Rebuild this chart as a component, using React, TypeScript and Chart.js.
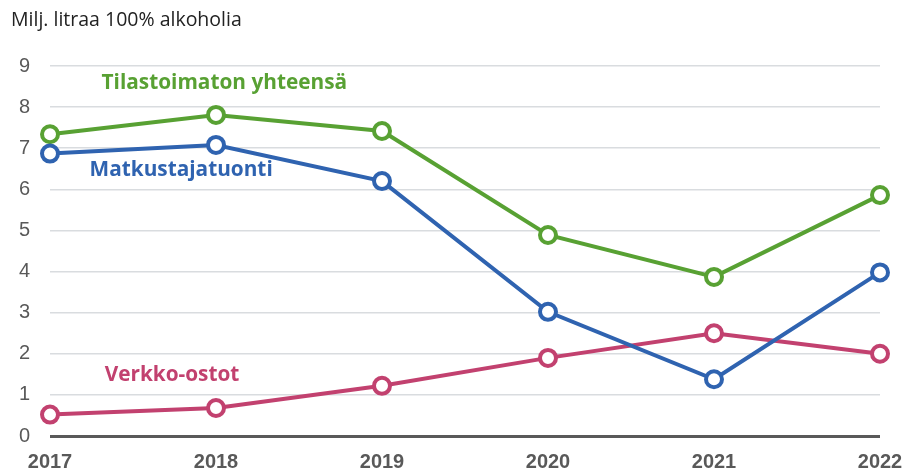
import React, { useEffect, useRef } from "react";
import { Chart, registerables } from "chart.js";

Chart.register(...registerables);

const years = ["2017", "2018", "2019", "2020", "2021", "2022"];
const tilastoimaton = [7.34, 7.81, 7.42, 4.89, 3.87, 5.86];
const matkustajatuonti = [6.87, 7.08, 6.2, 3.02, 1.38, 3.98];
const verkkoostot = [0.52, 0.68, 1.22, 1.9, 2.5, 2.0];

const yTicks = [0, 1, 2, 3, 4, 5, 6, 7, 8, 9];
const axisTitle = "Milj. litraa 100% alkoholia";

const GREEN = "#58a133";
const BLUE = "#2f63b0";
const PINK = "#c2416f";

// series labels: text, colour, anchor in data units (category index, value)
const seriesLabels = [
  { text: "Tilastoimaton yhteensä", color: GREEN, xIndex: 1.05, y: 8.58 },
  { text: "Matkustajatuonti", color: BLUE, xIndex: 0.79, y: 6.47 },
  { text: "Verkko-ostot", color: PINK, xIndex: 0.735, y: 1.48 },
];

const labelsPlugin = {
  id: "seriesLabels",
  afterDatasetsDraw(chart: any) {
    const { ctx, scales } = chart;
    const xs = scales.x;
    const ys = scales.y;
    ctx.save();
    ctx.font = "bold 20.8px 'Open Sans', Lato, sans-serif";
    ctx.textAlign = "center";
    ctx.textBaseline = "middle";
    for (const l of seriesLabels) {
      const x0 = xs.getPixelForValue(Math.floor(l.xIndex));
      const x1 = xs.getPixelForValue(Math.floor(l.xIndex) + 1);
      const px = x0 + (x1 - x0) * (l.xIndex - Math.floor(l.xIndex));
      ctx.fillStyle = l.color;
      ctx.fillText(l.text, px, ys.getPixelForValue(l.y));
    }
    ctx.fillStyle = "#222222";
    ctx.font = "19.5px 'Open Sans', Lato, sans-serif";
    ctx.textAlign = "left";
    ctx.fillText(axisTitle, 11, 20);
    ctx.restore();
  },
};

function ds(label: string, data: number[], color: string) {
  return {
    label,
    data,
    borderColor: color,
    backgroundColor: "#ffffff",
    pointBackgroundColor: "#ffffff",
    pointBorderColor: color,
    pointRadius: 8,
    pointBorderWidth: 4,
    borderWidth: 4,
    tension: 0,
    clip: false as any,
  };
}

export default function App() {
  const ref = useRef<HTMLCanvasElement>(null);
  useEffect(() => {
    if (!ref.current) return;
    const chart = new Chart(ref.current, {
      type: "line",
      data: {
        labels: years,
        datasets: [
          ds("Matkustajatuonti", matkustajatuonti, BLUE),
          ds("Verkko-ostot", verkkoostot, PINK),
          ds("Tilastoimaton yhteensä", tilastoimaton, GREEN),
        ],
      },
      options: {
        responsive: false,
        animation: false,
        devicePixelRatio: 1,
        layout: { padding: { top: 66, right: 42, left: 0, bottom: 0 } },
        plugins: {
          legend: { display: false },
          tooltip: { enabled: false },
          title: { display: false },
        },
        scales: {
          x: {
            offset: false,
            grid: { display: false },
            border: { display: false },
            ticks: {
              color: "#595959",
              font: { family: "'Liberation Sans', Arial, sans-serif", size: 20, weight: "bold" },
              padding: 6,
              maxRotation: 0,
              autoSkip: false,
            },
            afterFit: (s: any) => {
              s.height = 38;
            },
          },
          y: {
            min: 0,
            max: 9,
            afterBuildTicks: (s: any) => {
              s.ticks = yTicks.map((v) => ({ value: v }));
            },
            grid: {
              drawTicks: false,
              color: (c: any) => (c.tick && c.tick.value === 0 ? "#595959" : "#d9dcdf"),
              lineWidth: (c: any) => (c.tick && c.tick.value === 0 ? 3 : 1.5),
            },
            border: { display: false },
            ticks: {
              color: "#595959",
              font: { family: "'Liberation Sans', Arial, sans-serif", size: 20 },
              padding: 20,
            },
            afterFit: (s: any) => {
              s.width = 50;
            },
          },
        },
      },
      plugins: [labelsPlugin],
    });
    return () => chart.destroy();
  }, []);
  return (
    <div style={{ position: "fixed", left: 0, top: 0, width: 922, height: 474, background: "#fff" }}>
      <canvas ref={ref} width={922} height={474} style={{ width: 922, height: 474 }} />
    </div>
  );
}
